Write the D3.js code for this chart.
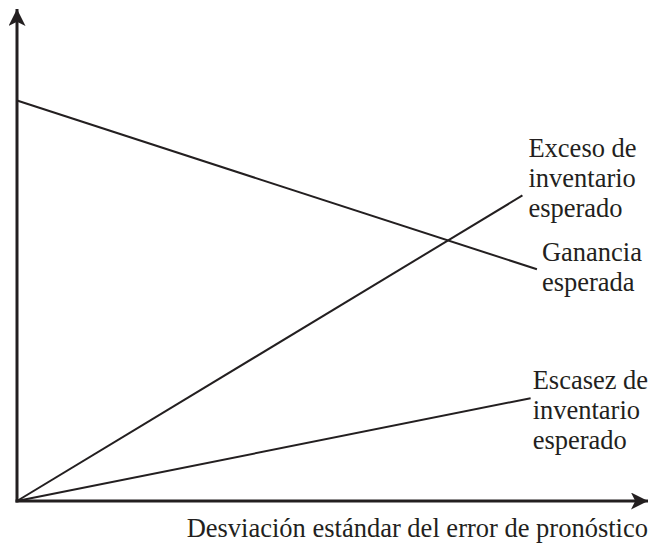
<!DOCTYPE html>
<html>
<head>
<meta charset="utf-8">
<script src="https://cdn.jsdelivr.net/npm/d3@7"></script>
<style>
  body { margin: 0; background: #fff; }
</style>
</head>
<body>
<svg id="chart" width="651" height="545"></svg>
<script>
// series: [x, y] in abstract units (0..100)
const seriesNames = ["Ganancia esperada", "Exceso de inventario esperado", "Escasez de inventario esperado"];
const ganancia = [[0, 81.4], [82.4, 47.1]];
const exceso = [[0, 0], [80.1, 62.1]];
const escasez = [[0, 0], [81.4, 20.9]];
const labelLines = [["Ganancia", "esperada"], ["Exceso de", "inventario", "esperado"], ["Escasez de", "inventario", "esperado"]];
const xTitle = "Desviación estándar del error de pronóstico";

const svg = d3.select("#chart")
  .attr("font-family", "'Liberation Serif', Tinos, 'Times New Roman', 'DejaVu Serif', serif");
const ink = "#231f20";

const x = d3.scaleLinear().domain([0, 100]).range([17, 648]);
const y = d3.scaleLinear().domain([0, 100]).range([501, 9]);

// arrow markers
const defs = svg.append("defs");
defs.append("marker")
  .attr("id", "arrow")
  .attr("viewBox", "0 0 10 10")
  .attr("refX", 10).attr("refY", 5)
  .attr("markerWidth", 19).attr("markerHeight", 17)
  .attr("markerUnits", "userSpaceOnUse")
  .attr("orient", "auto")
  .append("path")
  .attr("d", "M0,0 L10,5 L0,10 L2.5,5 Z")
  .attr("fill", ink);

// axes
svg.append("line")
  .attr("x1", x(0)).attr("y1", y(0) + 1.5)
  .attr("x2", x(0)).attr("y2", y(100))
  .attr("stroke", ink).attr("stroke-width", 3)
  .attr("marker-end", "url(#arrow)");
svg.append("line")
  .attr("x1", x(0) - 1.5).attr("y1", y(0))
  .attr("x2", x(100)).attr("y2", y(0))
  .attr("stroke", ink).attr("stroke-width", 3)
  .attr("marker-end", "url(#arrow)");

const line = d3.line().x(d => x(d[0])).y(d => y(d[1]));
const allSeries = [ganancia, exceso, escasez];

svg.selectAll(".series")
  .data(allSeries)
  .join("path")
  .attr("class", "series")
  .attr("d", line)
  .attr("fill", "none")
  .attr("stroke", ink)
  .attr("stroke-width", 2);

// labels next to line ends
const labelPos = [
  { dx: 5, dy: -8 },
  { dx: 6, dy: -38 },
  { dx: 2, dy: -9 }
];
const lineGap = 30;
allSeries.forEach((s, i) => {
  const end = s[s.length - 1];
  const t = svg.append("text")
    .attr("x", x(end[0]) + labelPos[i].dx)
    .attr("y", y(end[1]) + labelPos[i].dy)
    .attr("font-size", 26.5)
    .attr("fill", ink);
  labelLines[i].forEach((ln, j) => {
    t.append("tspan")
      .attr("x", x(end[0]) + labelPos[i].dx)
      .attr("dy", j === 0 ? 0 : lineGap)
      .text(ln);
  });
});

svg.append("text")
  .attr("x", 648)
  .attr("y", 537)
  .attr("text-anchor", "end")
  .attr("font-size", 26.5)
  .attr("fill", ink)
  .text(xTitle);
</script>
</body>
</html>
